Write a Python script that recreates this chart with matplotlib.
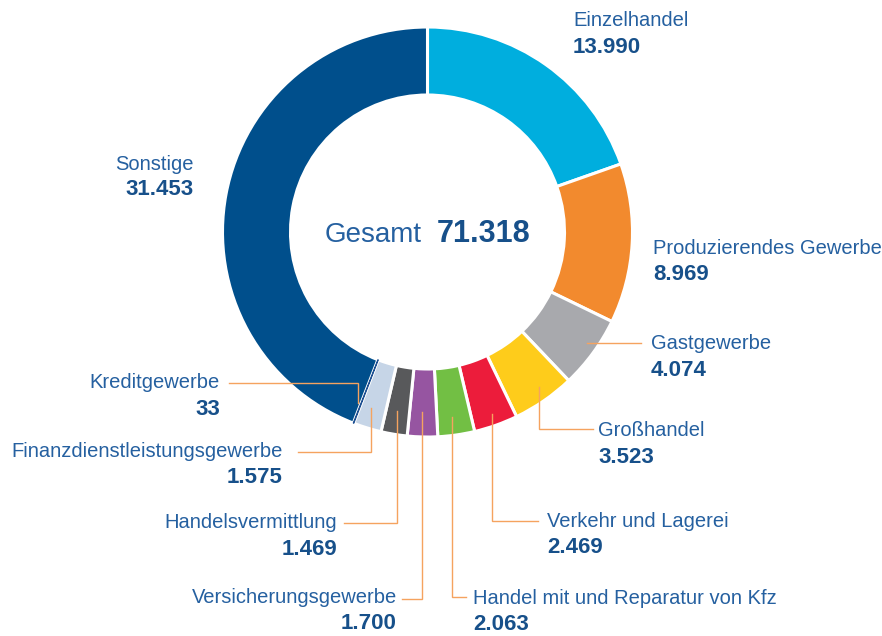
import matplotlib
matplotlib.use("Agg")
import matplotlib.pyplot as plt

# Daten (Anzahl nach Wirtschaftszweig)
branchen = ["Einzelhandel", "Produzierendes Gewerbe", "Gastgewerbe", "Großhandel",
            "Verkehr und Lagerei", "Handel mit und Reparatur von Kfz",
            "Versicherungsgewerbe", "Handelsvermittlung",
            "Finanzdienstleistungsgewerbe", "Kreditgewerbe", "Sonstige"]
werte = [13990, 8969, 4074, 3523, 2469, 2063, 1700, 1469, 1575, 33, 31453]
werte_text = ["13.990", "8.969", "4.074", "3.523", "2.469", "2.063",
              "1.700", "1.469", "1.575", "33", "31.453"]
farben = ["#00aede", "#f28a2e", "#a8a9ad", "#fecc1b", "#ec1c3b", "#72bf44",
          "#9655a1", "#58595b", "#c6d5e7", "#1d4f91", "#004f8c"]
gesamt_text = "71.318"

W, H = 882, 636
NAME_COL = "#2560a0"
WERT_COL = "#17508a"
LINIE_COL = "#f5a35f"
NAME_FONT = ["Liberation Sans Narrow", "Liberation Sans", "DejaVu Sans"]
WERT_FONT = ["Liberation Sans", "DejaVu Sans"]


def Y(py):
    # Pixel-y (von oben) -> Datenkoordinate (von unten)
    return H - py


fig = plt.figure(figsize=(W / 100, H / 100), dpi=100)
ax = fig.add_axes([0, 0, 1, 1])

cx, cy = 427.5, Y(232)
wedges, _ = ax.pie(werte, colors=farben, center=(cx, cy), radius=205,
                   startangle=90, counterclock=False,
                   wedgeprops=dict(width=68, edgecolor="white", linewidth=2.2))
# sehr schmales Segment (Kreditgewerbe) sichtbar halten
wedges[9].set_edgecolor(farben[9])
wedges[9].set_linewidth(0.8)
wedges[9].set_zorder(5)

ax.set_xlim(0, W)
ax.set_ylim(0, H)
ax.set_aspect("equal")
ax.axis("off")

# Beschriftungen: (x, Grundlinie Name, Grundlinie Wert, Ausrichtung)
pos = [
    (573, 26, 53, "left"),
    (653, 254, 280, "left"),
    (651, 349, 376, "left"),
    (598, 436, 463, "left"),
    (547, 527, 553, "left"),
    (473, 604, 630, "left"),
    (397, 603, 629, "right"),
    (337, 528, 555, "right"),
    (283, 457, 483, "right"),
    (220, 388, 415, "right"),
    (194, 170, 195, "right"),
]
for name, wt, (x, yn, yw, ha) in zip(branchen, werte_text, pos):
    ax.text(x, Y(yn), name, ha=ha, va="baseline", fontsize=14.5,
            color=NAME_COL, family=NAME_FONT)
    ax.text(x, Y(yw), wt, ha=ha, va="baseline", fontsize=16,
            fontweight="bold", color=WERT_COL, family=WERT_FONT)

# Führungslinien
linien = [
    [(587, 343), (641, 343)],
    [(539, 387), (539, 429), (593, 429)],
    [(492, 414), (492, 521), (538, 521)],
    [(452, 417), (452, 597), (466, 597)],
    [(422, 412), (422, 599), (402, 599)],
    [(397, 411), (397, 523), (344, 523)],
    [(371, 408), (371, 452), (298, 452)],
    [(229, 383), (358, 383), (358, 403)],
]
for pts in linien:
    xs = [p[0] for p in pts]
    ys = [Y(p[1]) for p in pts]
    ax.plot(xs, ys, color=LINIE_COL, linewidth=1.0, zorder=6,
            solid_joinstyle="miter")

# Gesamt in der Mitte
ax.text(422, Y(242), "Gesamt", ha="right", va="baseline", fontsize=20,
        color=NAME_COL, family=NAME_FONT)
ax.text(437, Y(242), gesamt_text, ha="left", va="baseline", fontsize=22,
        fontweight="bold", color=WERT_COL, family=WERT_FONT)

fig.savefig("out.png", dpi=100)
